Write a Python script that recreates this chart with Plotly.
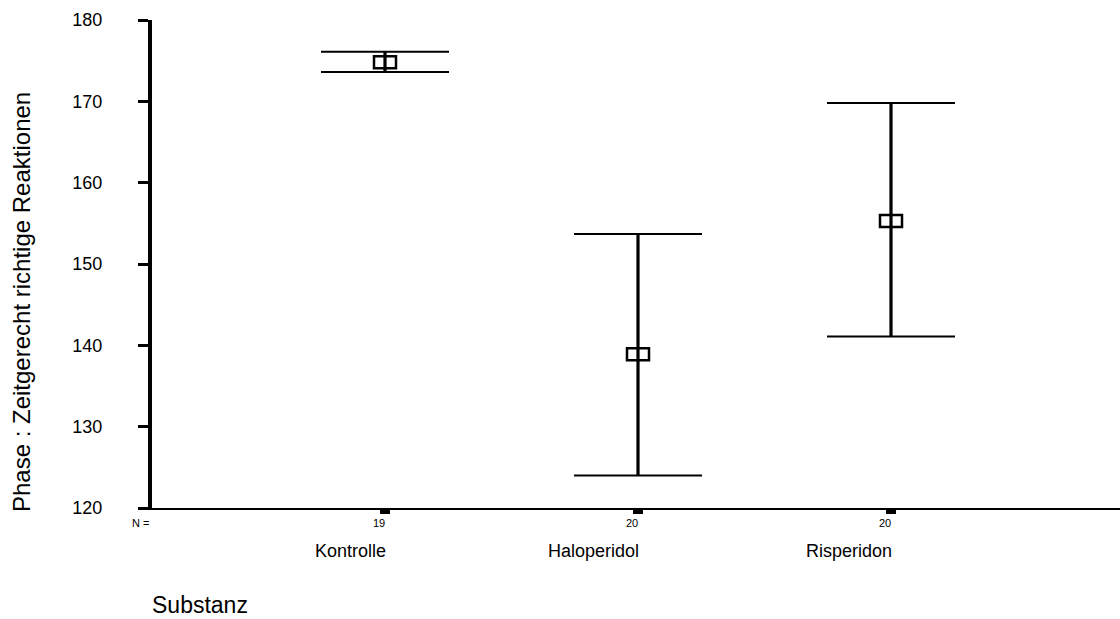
import plotly.graph_objects as go

# Group data: mean and confidence interval bounds
groups = ["Kontrolle", "Haloperidol", "Risperidon"]
n_counts = ["19", "20", "20"]
means = [174.8, 138.9, 155.3]
upper = [176.1, 153.7, 169.8]
lower = [173.6, 124.0, 141.1]

y_ticks = [120, 130, 140, 150, 160, 170, 180]

xpos = list(range(1, len(groups) + 1))
err_plus = [u - m for u, m in zip(upper, means)]
err_minus = [m - l for m, l in zip(means, lower)]

FONT = "Liberation Sans, Arial, sans-serif"

fig = go.Figure()

# whiskers with wide caps
fig.add_trace(go.Scatter(
    x=xpos, y=means, mode="markers",
    marker=dict(size=1, color="rgba(0,0,0,0)"),
    error_y=dict(type="data", symmetric=False, array=err_plus, arrayminus=err_minus,
                 width=64, thickness=2, color="black"),
    showlegend=False, hoverinfo="skip",
))
# thicker vertical stems
fig.add_trace(go.Scatter(
    x=xpos, y=means, mode="markers",
    marker=dict(size=1, color="rgba(0,0,0,0)"),
    error_y=dict(type="data", symmetric=False, array=err_plus, arrayminus=err_minus,
                 width=0, thickness=3.2, color="black"),
    showlegend=False, hoverinfo="skip",
))

# open rectangular mean markers
shapes = []
for xv, m in zip(xpos, means):
    shapes.append(dict(
        type="rect", xref="x", yref="y",
        xsizemode="pixel", ysizemode="pixel",
        xanchor=xv, yanchor=m,
        x0=-11, x1=11, y0=-6, y1=6,
        line=dict(color="black", width=2.5),
        fillcolor="rgba(0,0,0,0)", layer="above",
    ))

annotations = []
for xv, g in zip(xpos, groups):
    annotations.append(dict(
        x=xv, y=0, xref="x", yref="paper", text=g, showarrow=False,
        xanchor="right", yanchor="middle", xshift=3, yshift=-43,
        font=dict(family=FONT, size=18, color="black"),
    ))
annotations += [
    dict(x=0, y=0, xref="paper", yref="paper", text="N =", showarrow=False,
         xanchor="right", yanchor="middle", xshift=-1, yshift=-15,
         font=dict(family=FONT, size=11, color="black")),
    dict(x=0, y=0, xref="paper", yref="paper", text="Substanz", showarrow=False,
         xanchor="left", yanchor="middle", xshift=-2, yshift=-97,
         font=dict(family=FONT, size=23, color="black")),
    dict(x=0, y=0.422, xref="paper", yref="paper",
         text="Phase : Zeitgerecht richtige Reaktionen", showarrow=False,
         textangle=-90, xanchor="center", yanchor="middle", xshift=-131,
         font=dict(family=FONT, size=24, color="black")),
]

fig.update_layout(
    width=1120, height=619,
    margin=dict(l=152, r=0, t=20, b=111),
    paper_bgcolor="white", plot_bgcolor="white",
    shapes=shapes, annotations=annotations,
    xaxis=dict(
        range=[1 - 233 / 253, 3 + 229 / 253],
        tickvals=xpos, ticktext=n_counts,
        showline=True, linecolor="black", linewidth=2,
        ticks="outside", ticklen=4, tickwidth=10, tickcolor="black",
        ticklabelshift=-6,
        showgrid=False, zeroline=False,
        tickfont=dict(family=FONT, size=11, color="black"),
    ),
    yaxis=dict(
        range=[120, 180], tickvals=y_ticks,
        showline=True, linecolor="black", linewidth=4,
        ticks="outside", ticklen=10, tickwidth=3, tickcolor="black",
        showgrid=False, zeroline=False,
        ticklabelstandoff=32,
        tickfont=dict(family=FONT, size=18, color="black"),
    ),
)

fig.write_html("out.html")
